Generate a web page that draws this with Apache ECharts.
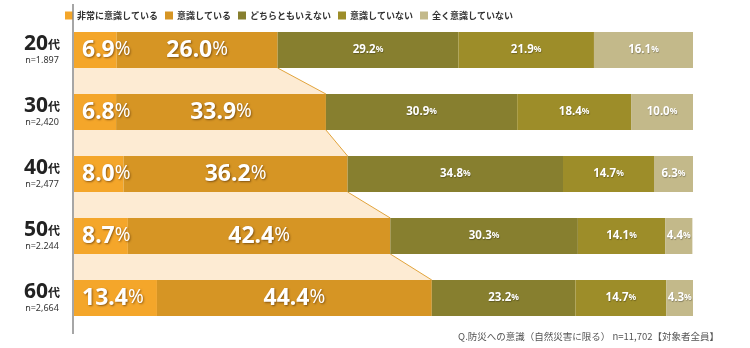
<!DOCTYPE html>
<html>
<head>
<meta charset="utf-8">
<script src="https://cdn.jsdelivr.net/npm/echarts@6/dist/echarts.min.js"></script>
<style>html,body{margin:0;padding:0;background:#fff;}#c{width:750px;height:348px;}</style>
</head>
<body>
<div id="c"></div>
<script>
const ages = ['20代', '30代', '40代', '50代', '60代'];
const sampleSizes = ['n=1.897', 'n=2,420', 'n=2,477', 'n=2.244', 'n=2,664'];
const seriesNames = ['非常に意識している', '意識している', 'どちらともいえない', '意識していない', '全く意識していない'];
const veryConscious = [6.9, 6.8, 8.0, 8.7, 13.4];
const conscious = [26.0, 33.9, 36.2, 42.4, 44.4];
const neither = [29.2, 30.9, 34.8, 30.3, 23.2];
const notConscious = [21.9, 18.4, 14.7, 14.1, 14.7];
const notAtAll = [16.1, 10.0, 6.3, 4.4, 4.3];
const note = 'Q.防災への意識（自然災害に限る） n=11,702【対象者全員】';

const colors = ['#f4a62a', '#d69524', '#877f2f', '#9d8d29', '#c3b98a'];
const BAR_W = 36;
const FONT = '"Noto Sans", "Noto Sans CJK JP", sans-serif';
const JP = '"Noto Sans CJK JP", sans-serif';

const values = [veryConscious, conscious, neither, notConscious, notAtAll];

const shadow = {textShadowColor: 'rgba(60,30,0,0.55)', textShadowBlur: 2, textShadowOffsetX: 1, textShadowOffsetY: 1};

function bigLabel(pos, dist) {
  return {
    show: true, position: pos, distance: dist,
    formatter: p => '{n|' + p.value.toFixed(1) + '}{p|%}',
    rich: {
      n: Object.assign({fontFamily: FONT, fontSize: 23, fontWeight: 'bold', color: '#fff'}, shadow),
      p: Object.assign({fontFamily: FONT, fontSize: 19, fontWeight: 'normal', color: '#fff'}, shadow)
    }
  };
}
function smallLabel() {
  return {
    show: true, position: 'inside',
    formatter: p => '{n|' + p.value.toFixed(1) + '}{p|%}',
    rich: {
      n: {fontFamily: FONT, fontSize: 11.5, fontWeight: 'bold', color: '#fff', textShadowColor: 'rgba(0,0,0,0.3)', textShadowBlur: 1, textShadowOffsetX: 0.5, textShadowOffsetY: 0.5},
      p: {fontFamily: FONT, fontSize: 8.5, fontWeight: 'bold', color: '#fff', textShadowColor: 'rgba(0,0,0,0.3)', textShadowBlur: 1, textShadowOffsetX: 0.5, textShadowOffsetY: 0.5}
    }
  };
}

const series = values.map((vals, k) => ({
  name: seriesNames[k],
  type: 'bar',
  stack: 'total',
  barWidth: BAR_W,
  z: 3,
  itemStyle: {color: colors[k]},
  label: k === 0 ? bigLabel('insideLeft', 8) : (k === 1 ? bigLabel('inside') : smallLabel()),
  data: vals
}));

// connectors between the cumulative "conscious" ends of consecutive rows
const cumConscious = veryConscious.map((v, i) => v + conscious[i]);
const connectorData = [];
for (let i = 0; i < ages.length - 1; i++) {
  connectorData.push([i, cumConscious[i], cumConscious[i + 1]]);
}
series.push({
  type: 'custom',
  z: 1,
  silent: true,
  encode: {x: [1, 2], y: 0},
  data: connectorData,
  renderItem: function (params, api) {
    const i = api.value(0);
    const a = api.coord([api.value(1), i]);
    const b = api.coord([api.value(2), i + 1]);
    const x0 = api.coord([0, i])[0];
    const h = BAR_W / 2;
    return {
      type: 'group',
      children: [
        {type: 'polygon', shape: {points: [[x0, a[1] + h], [a[0], a[1] + h], [b[0], b[1] - h], [x0, b[1] - h]]}, style: {fill: '#fdebd3'}},
        {type: 'line', shape: {x1: a[0], y1: a[1] + h, x2: b[0], y2: b[1] - h}, style: {stroke: '#e2a43c', lineWidth: 1}}
      ]
    };
  }
});

const chart = echarts.init(document.getElementById('c'));
chart.setOption({
  animation: false,
  backgroundColor: '#fff',
  title: {
    text: note, right: 26, bottom: 2,
    textStyle: {fontFamily: JP, fontSize: 9.5, fontWeight: 'normal', color: '#555'}
  },
  legend: {
    data: seriesNames, left: 60, top: 6,
    icon: 'rect', itemWidth: 8, itemHeight: 8, itemGap: 7,
    textStyle: {fontFamily: JP, fontSize: 9, fontWeight: 'bold', color: '#333', padding: [0, 0, 0, -1]}
  },
  grid: {left: 74, right: 57, top: 19, bottom: 19},
  xAxis: {type: 'value', min: 0, max: 100, show: false},
  yAxis: {
    type: 'category', data: ages, inverse: true,
    axisLine: {show: false}, axisTick: {show: false},
    axisLabel: {
      margin: 32, align: 'center',
      formatter: (v, idx) => '{a|' + v.replace('代', '') + '}{b|代}\n{c|' + sampleSizes[idx] + '}',
      rich: {
        a: {fontFamily: FONT, fontSize: 21, fontWeight: 'bold', color: '#222', lineHeight: 21},
        b: {fontFamily: JP, fontSize: 12, fontWeight: 'bold', color: '#222', lineHeight: 21},
        c: {fontFamily: FONT, fontSize: 9, color: '#333', lineHeight: 12}
      }
    }
  },
  graphic: [{
    type: 'line', shape: {x1: 73, y1: 4, x2: 73, y2: 334},
    style: {stroke: '#888', lineWidth: 1.5}, z: 10
  }],
  series: series
});
</script>
</body>
</html>
